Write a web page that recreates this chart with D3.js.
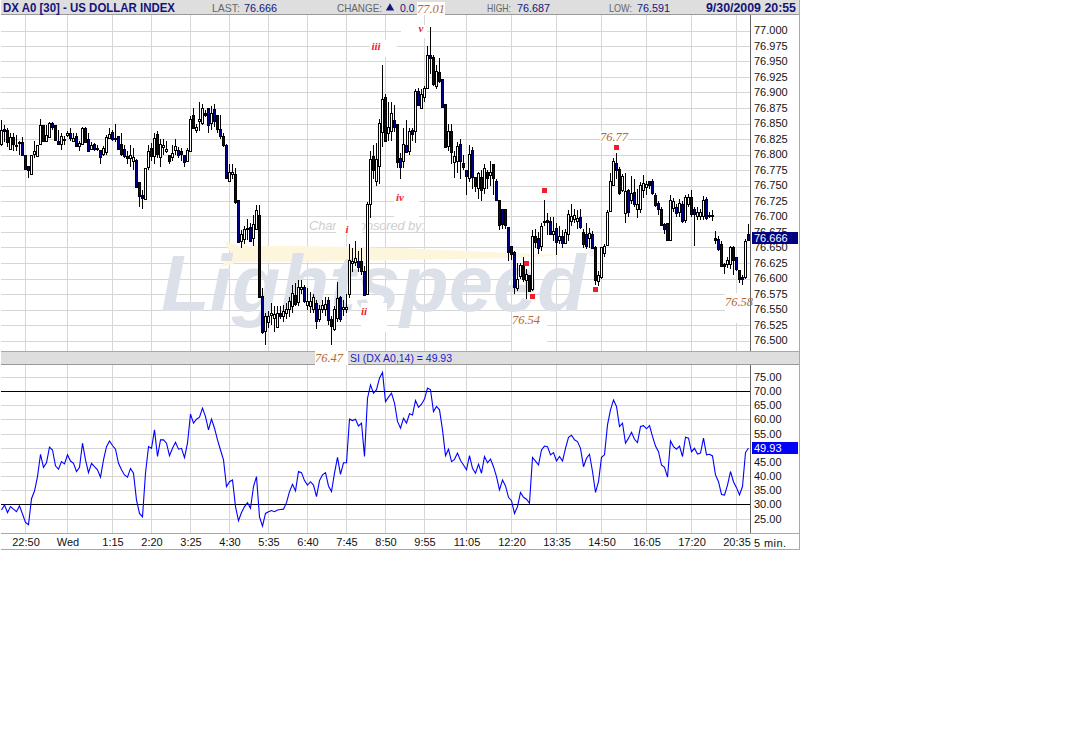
<!DOCTYPE html>
<html><head><meta charset="utf-8">
<script src="https://cdn.jsdelivr.net/npm/d3@7"></script>
<style>html,body{margin:0;background:#fff}svg{display:block}text{font-family:"Liberation Sans",Arial,sans-serif}</style>
</head><body><svg id="c" width="1088" height="740"></svg>
<script>
const opens=[76.816,76.841,76.839,76.810,76.829,76.815,76.820,76.820,76.799,76.782,
76.769,76.801,76.799,76.816,76.848,76.822,76.828,76.851,76.848,76.822,
76.817,76.825,76.832,76.835,76.822,76.830,76.814,76.818,76.843,76.825,
76.810,76.817,76.810,76.808,76.802,76.804,76.827,76.837,76.825,76.830,
76.817,76.809,76.798,76.795,76.790,76.791,76.755,76.734,76.729,76.779,
76.811,76.798,76.833,76.796,76.812,76.806,76.799,76.796,76.806,76.808,
76.805,76.800,76.790,76.805,76.864,76.840,76.855,76.851,76.867,76.875,
76.851,76.874,76.863,76.841,76.830,76.816,76.758,76.769,76.768,76.726,
76.660,76.664,76.680,76.683,76.665,76.680,76.703,76.571,76.516,76.530,
76.540,76.535,76.522,76.545,76.540,76.545,76.551,76.555,76.573,76.562,
76.583,76.586,76.556,76.556,76.551,76.561,76.535,76.551,76.551,76.565,
76.535,76.519,76.537,76.570,76.550,76.551,76.575,76.625,76.626,76.629,
76.629,76.612,76.575,76.720,76.797,76.757,76.782,76.836,76.893,76.835,
76.838,76.856,76.850,76.794,76.790,76.816,76.805,76.840,76.838,76.903,
76.876,76.892,76.907,76.961,76.958,76.910,76.933,76.922,76.882,76.814,
76.838,76.788,76.790,76.817,76.787,76.775,76.763,76.807,76.764,76.745,
76.763,76.747,76.772,76.766,76.785,76.758,76.726,76.712,76.712,76.683,
76.653,76.642,76.586,76.605,76.622,76.598,76.606,76.583,76.669,76.666,
76.651,76.691,76.695,76.693,76.672,76.681,76.662,76.669,76.658,76.671,
76.693,76.695,76.693,76.699,76.675,76.672,76.665,76.672,76.650,76.596,
76.602,76.640,76.653,76.710,76.752,76.786,76.776,76.743,76.706,76.742,
76.726,76.739,76.712,76.712,76.742,76.747,76.757,76.758,76.735,76.721,
76.712,76.688,76.689,76.661,76.713,76.716,76.708,76.720,76.694,76.720,
76.731,76.712,76.701,76.701,76.701,76.728,76.703,76.702,76.665,76.664,
76.656,76.623,76.623,76.623,76.650,76.634,76.613,76.602,76.602,76.672];
const highs=[76.855,76.847,76.843,76.834,76.834,76.832,76.821,76.829,76.799,76.782,
76.799,76.822,76.816,76.858,76.848,76.848,76.852,76.853,76.848,76.840,
76.835,76.830,76.838,76.842,76.835,76.835,76.822,76.845,76.845,76.835,
76.820,76.818,76.815,76.808,76.814,76.832,76.843,76.840,76.849,76.830,
76.835,76.815,76.805,76.815,76.810,76.793,76.755,76.743,76.779,76.815,
76.818,76.835,76.838,76.825,76.825,76.822,76.799,76.815,76.825,76.812,
76.810,76.800,76.810,76.862,76.875,76.850,76.885,76.882,76.872,76.875,
76.878,76.882,76.863,76.863,76.835,76.817,76.785,76.785,76.778,76.726,
76.678,76.685,76.696,76.690,76.703,76.718,76.718,76.585,76.545,76.548,
76.560,76.555,76.555,76.555,76.558,76.560,76.570,76.590,76.592,76.598,
76.598,76.590,76.585,76.578,76.575,76.565,76.558,76.565,76.570,76.570,
76.540,76.555,76.595,76.572,76.565,76.575,76.655,76.650,76.660,76.645,
76.650,76.620,76.723,76.805,76.815,76.818,76.858,76.944,76.897,76.885,
76.885,76.880,76.850,76.803,76.842,76.855,76.842,76.842,76.905,76.908,
76.905,76.910,76.975,77.006,76.960,76.945,76.955,76.922,76.882,76.850,
76.850,76.805,76.820,76.825,76.800,76.775,76.815,76.812,76.764,76.772,
76.775,76.785,76.775,76.790,76.785,76.760,76.726,76.712,76.712,76.683,
76.653,76.645,76.625,76.625,76.635,76.615,76.606,76.678,76.680,76.675,
76.690,76.726,76.705,76.700,76.700,76.690,76.685,76.678,76.680,76.710,
76.720,76.712,76.710,76.712,76.680,76.690,76.682,76.677,76.652,76.612,
76.650,76.655,76.710,76.770,76.795,76.802,76.780,76.768,76.770,76.745,
76.765,76.760,76.745,76.755,76.767,76.757,76.757,76.760,76.738,76.725,
76.715,76.690,76.690,76.735,76.730,76.720,76.728,76.725,76.735,76.736,
76.743,76.715,76.715,76.712,76.733,76.732,76.708,76.710,76.677,76.668,
76.660,76.625,76.635,76.652,76.652,76.634,76.613,76.605,76.663,76.688];
const lows=[76.814,76.820,76.812,76.808,76.805,76.806,76.800,76.799,76.775,76.762,
76.769,76.795,76.799,76.816,76.822,76.822,76.828,76.840,76.824,76.815,
76.808,76.815,76.828,76.822,76.820,76.814,76.806,76.818,76.820,76.805,
76.808,76.805,76.805,76.785,76.798,76.800,76.825,76.822,76.820,76.809,
76.798,76.795,76.785,76.780,76.775,76.748,76.716,76.712,76.729,76.775,
76.790,76.785,76.795,76.780,76.800,76.802,76.785,76.790,76.800,76.795,
76.790,76.780,76.788,76.805,76.843,76.835,76.838,76.848,76.860,76.835,
76.840,76.845,76.835,76.825,76.812,76.760,76.755,76.760,76.720,76.657,
76.650,76.655,76.662,76.660,76.652,76.680,76.568,76.510,76.492,76.520,
76.525,76.514,76.520,76.535,76.530,76.535,76.538,76.545,76.555,76.555,
76.575,76.560,76.550,76.545,76.545,76.518,76.530,76.545,76.540,76.525,
76.492,76.515,76.530,76.530,76.540,76.545,76.568,76.610,76.620,76.610,
76.605,76.574,76.575,76.698,76.760,76.750,76.752,76.812,76.822,76.822,
76.822,76.837,76.778,76.760,76.778,76.804,76.800,76.822,76.818,76.878,
76.873,76.885,76.905,76.930,76.910,76.905,76.915,76.877,76.813,76.805,
76.785,76.762,76.770,76.760,76.775,76.735,76.755,76.745,76.740,76.728,
76.725,76.737,76.745,76.750,76.735,76.725,76.678,76.680,76.680,76.628,
76.630,76.575,76.580,76.600,76.595,76.567,76.580,76.580,76.650,76.640,
76.645,76.685,76.670,76.670,76.660,76.638,76.655,76.650,76.655,76.660,
76.685,76.690,76.680,76.680,76.650,76.648,76.650,76.648,76.590,76.588,
76.600,76.635,76.652,76.710,76.750,76.760,76.735,76.740,76.689,76.700,
76.720,76.715,76.698,76.705,76.730,76.735,76.745,76.735,76.715,76.703,
76.687,76.672,76.661,76.660,76.708,76.700,76.700,76.690,76.690,76.715,
76.700,76.652,76.695,76.695,76.695,76.695,76.698,76.693,76.655,76.645,
76.620,76.608,76.617,76.615,76.605,76.612,76.592,76.589,76.600,76.660];
const closes=[76.839,76.838,76.820,76.829,76.817,76.815,76.818,76.799,76.777,76.775,
76.799,76.806,76.816,76.847,76.822,76.831,76.851,76.844,76.824,76.817,
76.830,76.823,76.835,76.827,76.827,76.814,76.819,76.843,76.820,76.805,
76.816,76.809,76.809,76.797,76.811,76.829,76.833,76.825,76.826,76.809,
76.801,76.797,76.794,76.800,76.796,76.748,76.732,76.729,76.779,76.805,
76.798,76.827,76.801,76.817,76.815,76.809,76.789,76.802,76.813,76.800,
76.800,76.788,76.808,76.857,76.843,76.845,76.858,76.875,76.864,76.847,
76.867,76.854,76.840,76.829,76.816,76.762,76.772,76.772,76.723,76.658,
76.672,76.680,76.682,76.661,76.688,76.710,76.571,76.513,76.540,76.540,
76.544,76.542,76.544,76.540,76.548,76.551,76.564,76.576,76.558,76.586,
76.586,76.564,76.563,76.564,76.570,76.532,76.551,76.558,76.559,76.532,
76.524,76.551,76.569,76.535,76.554,76.554,76.630,76.629,76.633,76.619,
76.613,76.574,76.720,76.793,76.774,76.793,76.851,76.890,76.822,76.844,
76.867,76.844,76.789,76.779,76.817,76.804,76.838,76.833,76.903,76.881,
76.898,76.907,76.960,76.956,76.914,76.934,76.918,76.877,76.813,76.838,
76.804,76.798,76.814,76.790,76.781,76.765,76.801,76.763,76.750,76.770,
76.742,76.779,76.762,76.771,76.763,76.728,76.685,76.688,76.686,76.642,
76.640,76.586,76.600,76.622,76.599,76.607,76.580,76.669,76.660,76.650,
76.684,76.693,76.691,76.672,76.677,76.658,76.669,76.657,76.675,76.704,
76.701,76.702,76.698,76.683,76.655,76.653,76.673,76.650,76.597,76.605,
76.650,76.652,76.707,76.758,76.790,76.774,76.738,76.765,76.741,76.706,
76.738,76.720,76.720,76.751,76.754,76.752,76.750,76.738,76.719,76.711,
76.687,76.680,76.661,76.726,76.725,76.707,76.722,76.693,76.731,76.731,
76.704,76.704,76.707,76.708,76.727,76.698,76.702,76.702,76.662,76.648,
76.621,76.619,76.630,76.651,76.629,76.614,76.598,76.599,76.660,76.662];
const rsi=[28.0,29.8,27.1,29.2,28.3,27.4,29.5,26.6,23.6,22.8,
32.0,34.7,39.8,47.7,43.1,44.7,50.2,49.2,43.6,42.4,
45.1,44.3,47.5,45.3,44.5,41.6,43.1,51.6,45.7,41.2,
44.5,43.3,42.2,39.6,45.7,50.4,52.4,50.8,49.5,44.5,
42.2,40.4,39.6,42.7,41.0,31.5,26.8,25.6,41.0,50.4,
49.8,56.3,46.9,52.8,52.8,51.6,47.2,49.8,51.9,49.5,
49.8,46.5,51.6,61.9,58.7,60.1,60.8,64.0,61.0,56.3,
60.1,56.9,52.8,49.2,45.7,36.3,38.0,38.6,29.2,24.2,
27.1,29.2,30.6,28.6,36.3,39.8,25.6,22.3,26.8,27.4,
27.8,27.4,28.0,28.2,28.3,30.6,34.5,37.1,34.8,41.6,
41.2,38.4,36.8,38.0,36.8,32.7,38.4,40.4,41.2,36.5,
34.5,41.0,46.6,40.6,44.7,44.7,60.1,59.6,60.1,57.7,
58.7,46.9,67.5,72.2,69.3,70.5,74.6,76.6,66.3,67.9,
69.3,65.8,59.3,56.9,60.4,58.7,62.0,61.6,66.7,64.3,
65.4,67.2,71.1,70.5,62.8,64.6,63.4,56.3,47.2,49.5,
45.1,45.9,48.1,45.5,43.9,42.2,47.2,42.7,41.0,44.2,
41.0,46.9,44.7,46.0,43.3,39.8,35.1,38.6,36.5,32.5,
31.3,26.8,29.2,34.2,32.5,31.8,30.4,46.6,45.3,43.9,
49.2,50.6,50.4,47.5,48.3,45.3,46.9,45.3,49.8,53.7,
54.4,52.8,52.2,49.8,43.3,46.3,47.7,41.6,34.2,38.0,
46.6,47.5,58.1,63.4,66.9,64.6,57.5,58.7,51.6,53.4,
55.5,53.0,51.8,57.5,57.8,56.7,57.8,54.0,50.6,48.6,
43.9,43.1,39.6,52.4,50.4,49.5,50.6,46.9,53.7,53.4,
48.6,49.8,47.8,48.1,53.4,47.5,47.7,47.1,40.4,38.0,
33.5,33.3,36.8,41.6,38.0,35.9,33.3,36.3,48.3,49.93];
const priceTicks=[77,76.975,76.95,76.925,76.9,76.875,76.85,76.825,76.8,76.775,76.75,76.725,76.7,76.675,76.65,76.625,76.6,76.575,76.55,76.525,76.5];
const rsiTicks=[75,70,65,60,55,50,45,40,35,30,25];
const rsiRefs=[70,30];
const timeIdx=[8,22,37,50,63,76,89,102,115,128,141,155,170,185,200,215,230,245];
const timeLabels=["22:50","Wed","1:15","2:20","3:25","4:30","5:35","6:40","7:45","8:50","9:55","11:05","12:20","13:35","14:50","16:05","17:20","20:35"];
const markerIdx=[175,177,181,198,205];
const markerPrice=[76.625,76.571,76.742,76.582,76.812];
const lastPrice=76.666, lastRsi=49.93;

const svg=d3.select("#c");
const x=d3.scaleLinear().domain([0,249]).range([1.5,748.5]);
const yP=d3.scaleLinear().domain([76.5,77]).range([340.5,30.5]);
const yR=d3.scaleLinear().domain([25,75]).range([518.5,377]);
const crisp=g=>g.attr("shape-rendering","crispEdges");
const GRID="#d6d6d6",BAND="#dedede",EDGE="#a8a8a8",NAVY="#14147a";

// grid
const grid=svg.append("g").call(crisp).attr("stroke",GRID);
grid.selectAll(".hp").data(priceTicks).join("line").attr("x1",1).attr("x2",750).attr("y1",d=>Math.round(yP(d))+.5).attr("y2",d=>Math.round(yP(d))+.5);
grid.selectAll(".hr").data(rsiTicks).join("line").attr("x1",1).attr("x2",750).attr("y1",d=>Math.round(yR(d))+.5).attr("y2",d=>Math.round(yR(d))+.5);
timeIdx.forEach(i=>{
 grid.append("line").attr("x1",x(i)).attr("x2",x(i)).attr("y1",15).attr("y2",351);
 grid.append("line").attr("x1",x(i)).attr("x2",x(i)).attr("y1",365).attr("y2",533);
});

// watermark
svg.append("text").attr("x",309).attr("y",230).attr("font-size",13).attr("font-style","italic").attr("fill","#cfcfcf").attr("textLength",116).text("Chart Sponsored by:");
const swoosh=[[224,241],[240,246],[300,246],[400,248],[510,253],[570,255],[510,258],[400,260],[300,262],[240,262],[220,267],[232,255]];
svg.append("path").attr("d",d3.line()(swoosh)+"Z").attr("fill","#fdf6dc");
svg.append("text").attr("x",161).attr("y",311).attr("font-size",80).attr("font-weight","bold").attr("font-style","italic").attr("fill","#dce1e9").attr("textLength",425).attr("lengthAdjust","spacingAndGlyphs").text("Lightspeed");
svg.append("text").attr("x",588).attr("y",256).attr("font-size",10).attr("fill","#dce1e9").text("®");

// candles
const cg=svg.append("g").call(crisp);
const idx=d3.range(opens.length);
cg.selectAll("line").data(idx).join("line").attr("x1",i=>x(i)).attr("x2",i=>x(i)).attr("y1",i=>yP(highs[i])).attr("y2",i=>yP(lows[i])).attr("stroke","#000");
cg.selectAll("rect").data(idx).join("rect")
 .attr("x",i=>x(i)-1).attr("width",2)
 .attr("y",i=>Math.round(yP(Math.max(opens[i],closes[i])))+.5)
 .attr("height",i=>Math.max(1,Math.round(Math.abs(yP(opens[i])-yP(closes[i])))))
 .attr("fill",i=>closes[i]>=opens[i]?"#fff":"#00008c").attr("stroke","#000");

// rsi
svg.append("g").call(crisp).attr("stroke","#000").selectAll("line").data(rsiRefs).join("line").attr("x1",1).attr("x2",750).attr("y1",d=>Math.round(yR(d))+.5).attr("y2",d=>Math.round(yR(d))+.5);
svg.append("path").datum(rsi).attr("fill","none").attr("stroke","#0000ff").attr("stroke-width",1.1).attr("d",d3.line().x((d,i)=>x(i)).y(d=>yR(d)));

// frame and bands
const fr=svg.append("g").call(crisp);
fr.append("rect").attr("x",1).attr("y",0).attr("width",799).attr("height",14).attr("fill",BAND);
fr.append("line").attr("x1",1).attr("x2",800).attr("y1",14.5).attr("y2",14.5).attr("stroke","#999");
fr.append("rect").attr("x",1).attr("y",351).attr("width",799).attr("height",13).attr("fill",BAND);
fr.append("line").attr("x1",1).attr("x2",800).attr("y1",351.5).attr("y2",351.5).attr("stroke",EDGE);
fr.append("line").attr("x1",1).attr("x2",800).attr("y1",364.5).attr("y2",364.5).attr("stroke","#999");
fr.append("line").attr("x1",1).attr("x2",800).attr("y1",533.5).attr("y2",533.5).attr("stroke",EDGE);
fr.append("line").attr("x1",1).attr("x2",800).attr("y1",549.5).attr("y2",549.5).attr("stroke",EDGE);
fr.append("line").attr("x1",799.5).attr("x2",799.5).attr("y1",0).attr("y2",550).attr("stroke",EDGE);
fr.append("line").attr("x1",750.5).attr("x2",750.5).attr("y1",15).attr("y2",351).attr("stroke","#666");
fr.append("line").attr("x1",750.5).attr("x2",750.5).attr("y1",365).attr("y2",533).attr("stroke","#666");

// axes
const styleAxis=g=>{g.select(".domain").remove();g.selectAll(".tick line").remove();g.selectAll("text").attr("font-family","Liberation Sans").attr("font-size",11).attr("fill","#111");};
svg.append("g").attr("transform","translate(754,-0.5)").call(d3.axisRight(yP).tickValues(priceTicks).tickFormat(d3.format(".3f")).tickSize(0).tickPadding(0)).call(styleAxis);
svg.append("g").attr("transform","translate(754,0)").call(d3.axisRight(yR).tickValues(rsiTicks).tickFormat(d3.format(".2f")).tickSize(0).tickPadding(0)).call(styleAxis);
svg.append("g").attr("transform","translate(0,538)").call(d3.axisBottom(x).tickValues(timeIdx).tickFormat((d,i)=>timeLabels[i]).tickSize(0).tickPadding(0)).call(styleAxis);
svg.append("text").attr("x",754).attr("y",547).attr("font-size",11).attr("fill","#111").attr("letter-spacing",".4").text("5 min.");

// last value boxes
[[yP(lastPrice),lastPrice.toFixed(3),"#000080"],[yR(lastRsi),lastRsi.toFixed(2),"#0000ff"]].forEach(([yy,t,c])=>{
 svg.append("rect").call(crisp).attr("x",752).attr("y",Math.round(yy)-6).attr("width",46).attr("height",12).attr("fill",c);
 svg.append("text").attr("x",754).attr("y",Math.round(yy)+4).attr("font-size",11).attr("fill","#fff").text(t);
});

// header text
const hdr=(tx,t,fill,o={})=>{const s=svg.append("text").attr("x",tx).attr("y",o.y||12).attr("font-size",o.size||10.5).attr("font-weight",o.bold?"bold":"normal").attr("fill",fill).text(t); if(o.len) s.attr("textLength",o.len).attr("lengthAdjust","spacingAndGlyphs"); return s;};
hdr(3,"DX A0 [30] - US DOLLAR INDEX",NAVY,{bold:1,size:12,len:172});
hdr(212,"LAST:","#666",{len:28});hdr(244,"76.666",NAVY,{len:33});
hdr(337,"CHANGE:","#666",{len:45});hdr(400,"0.0",NAVY);
svg.append("path").attr("d",d3.symbol(d3.symbolTriangle,30)()).attr("transform","translate(390,8)").attr("fill",NAVY);
hdr(487,"HIGH:","#666",{len:24});hdr(517,"76.687",NAVY,{len:33});
hdr(609,"LOW:","#666",{len:23});hdr(637,"76.591",NAVY,{len:33});
hdr(706,"9/30/2009 20:55",NAVY,{bold:1,size:12,len:90});
hdr(350,"SI (DX A0,14) = 49.93","#1a1ad0",{y:362,size:10.5,len:102});

// hand-pasted white patches and annotations
const patches=[[417,2,28,13],[401,25,26,13],[370,40,27,17],[394,193,25,24],[336,220,26,15],[361,303,26,29],[315,351,33,14],[512,313,35,37],[725,293,25,30],[600,131,28,12]];
svg.append("g").call(crisp).attr("fill","#fff").selectAll("rect").data(patches).join("rect").attr("x",d=>d[0]).attr("y",d=>d[1]).attr("width",d=>d[2]).attr("height",d=>d[3]);
const brown=[[431,13,"77.01"],[329,362,"76.47"],[526,324,"76.54"],[739,306,"76.58"],[614,141,"76.77"]];
svg.append("g").selectAll("text").data(brown).join("text").attr("x",d=>d[0]).attr("y",d=>d[1]).attr("text-anchor","middle").attr("font-style","italic").attr("font-size",12.5).attr("fill","#b06a30").attr("style","font-family:'Liberation Serif'").text(d=>d[2]);
const wave=[[421,32,"v"],[376,50,"iii"],[400,201,"iv"],[347,233,"i"],[364,315,"ii"]];
svg.append("g").selectAll("text").data(wave).join("text").attr("x",d=>d[0]).attr("y",d=>d[1]).attr("text-anchor","middle").attr("font-style","italic").attr("font-weight","bold").attr("font-size",11).attr("fill","#ee1c2c").attr("style","font-family:'Liberation Serif'").text(d=>d[2]);
svg.append("g").call(crisp).attr("fill","#ee1c2c").selectAll("rect").data(markerIdx).join("rect")
 .attr("x",(d)=>x(d)-2.5).attr("y",(d,i)=>yP(markerPrice[i])-2.5).attr("width",5).attr("height",5);
</script></body></html>
